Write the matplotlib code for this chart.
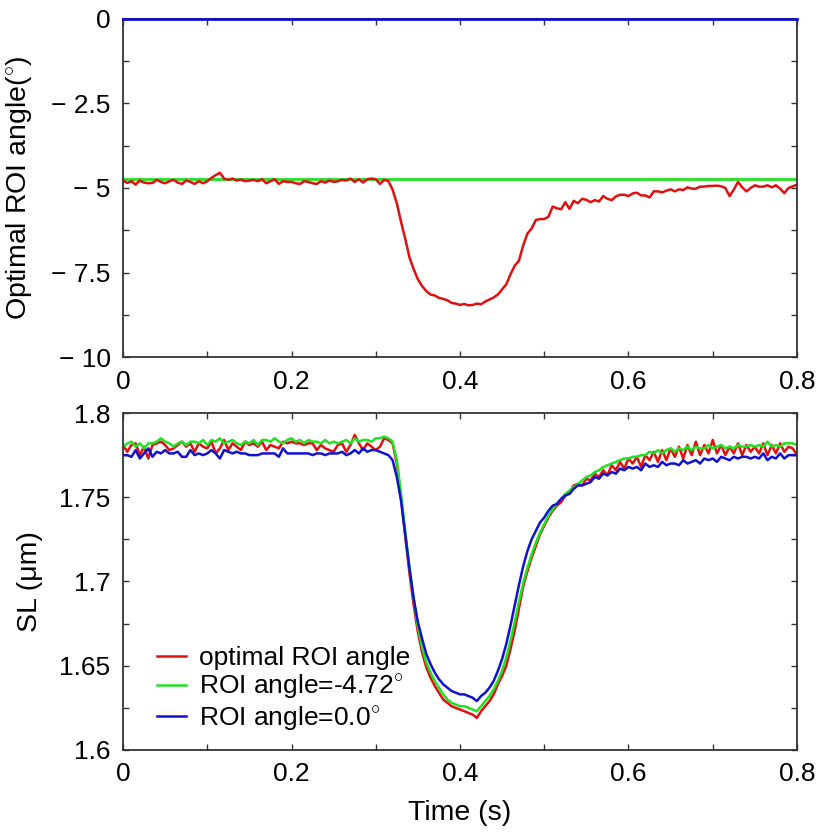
import numpy as np
import matplotlib
matplotlib.use('Agg')
import matplotlib.pyplot as plt
from matplotlib.ticker import MultipleLocator, FixedLocator, FixedFormatter

plt.rcParams['font.family'] = ['Liberation Sans', 'DejaVu Sans']
plt.rcParams['mathtext.fontset'] = 'custom'
plt.rcParams['mathtext.rm'] = 'Liberation Sans'

# sampling times (s), 5 ms frames
time = np.linspace(0.0, 0.8, 161)

# top panel: optimal ROI angle (deg)
angle_optimal = [
    -4.78, -4.85, -4.80, -4.90, -4.78, -4.84, -4.86, -4.85, -4.76, -4.82,
    -4.86, -4.80, -4.76, -4.84, -4.88, -4.78, -4.82, -4.88, -4.80, -4.86,
    -4.80, -4.70, -4.62, -4.55, -4.72, -4.76, -4.72, -4.78, -4.75, -4.80,
    -4.78, -4.76, -4.80, -4.74, -4.86, -4.80, -4.74, -4.88, -4.80, -4.82,
    -4.82, -4.86, -4.88, -4.80, -4.82, -4.86, -4.88, -4.80, -4.84, -4.78,
    -4.82, -4.80, -4.76, -4.78, -4.72, -4.82, -4.74, -4.84, -4.74, -4.72,
    -4.74, -4.88, -4.76, -4.80, -5.05, -5.45, -6.00, -6.50, -7.05, -7.40,
    -7.70, -7.90, -8.05, -8.15, -8.18, -8.25, -8.28, -8.32, -8.40, -8.42,
    -8.46, -8.43, -8.47, -8.46, -8.42, -8.44, -8.36, -8.30, -8.24, -8.15,
    -8.00, -7.85, -7.55, -7.30, -7.15, -6.70, -6.35, -6.20, -5.95, -5.92,
    -5.92, -5.85, -5.55, -5.60, -5.63, -5.42, -5.62, -5.38, -5.45, -5.32,
    -5.35, -5.42, -5.36, -5.40, -5.24, -5.32, -5.36, -5.25, -5.20, -5.20,
    -5.24, -5.16, -5.14, -5.22, -5.22, -5.28, -5.10, -5.10, -5.13, -5.08,
    -5.04, -5.10, -5.04, -5.06, -4.98, -5.02, -5.02, -4.96, -4.96, -4.94,
    -4.94, -4.93, -4.95, -5.00, -5.24, -5.05, -4.82, -4.98, -5.10, -5.00,
    -4.92, -4.96, -4.96, -4.92, -4.98, -4.92, -5.02, -5.15, -5.00, -4.95,
    -4.90,
]
angle_fixed = -4.72
angle_zero = 0.0

# bottom panel: sarcomere length (um)
sl_optimal = [
    1.781, 1.777, 1.781, 1.782, 1.775, 1.780, 1.773, 1.781, 1.782, 1.783,
    1.781, 1.778, 1.779, 1.781, 1.783, 1.780, 1.782, 1.777, 1.782, 1.780,
    1.779, 1.783, 1.776, 1.779, 1.784, 1.778, 1.782, 1.780, 1.778, 1.783,
    1.781, 1.782, 1.780, 1.783, 1.778, 1.781, 1.780, 1.779, 1.783, 1.782,
    1.783, 1.782, 1.782, 1.781, 1.782, 1.782, 1.778, 1.781, 1.779, 1.778,
    1.777, 1.781, 1.782, 1.777, 1.781, 1.787, 1.782, 1.778, 1.782, 1.780,
    1.778, 1.780, 1.785, 1.784, 1.782, 1.770, 1.750, 1.727, 1.705, 1.686,
    1.670, 1.658, 1.649, 1.643, 1.638, 1.634, 1.630, 1.628, 1.626, 1.625,
    1.624, 1.623, 1.622, 1.621, 1.619, 1.623, 1.626, 1.629, 1.633, 1.639,
    1.644, 1.650, 1.660, 1.671, 1.684, 1.697, 1.706, 1.714, 1.721, 1.728,
    1.733, 1.738, 1.742, 1.745, 1.747, 1.751, 1.753, 1.757, 1.758, 1.757,
    1.761, 1.760, 1.764, 1.762, 1.766, 1.763, 1.769, 1.766, 1.771, 1.767,
    1.773, 1.770, 1.774, 1.768, 1.775, 1.772, 1.777, 1.771, 1.778, 1.772,
    1.779, 1.774, 1.780, 1.773, 1.781, 1.775, 1.783, 1.775, 1.781, 1.776,
    1.784, 1.776, 1.781, 1.775, 1.780, 1.776, 1.782, 1.775, 1.781, 1.777,
    1.780, 1.776, 1.782, 1.775, 1.781, 1.776, 1.782, 1.777, 1.780, 1.779,
    1.775,
]
sl_fixed = [
    1.780, 1.782, 1.783, 1.780, 1.782, 1.779, 1.782, 1.782, 1.783, 1.785,
    1.783, 1.782, 1.780, 1.782, 1.783, 1.781, 1.783, 1.783, 1.782, 1.784,
    1.781, 1.784, 1.783, 1.785, 1.782, 1.783, 1.784, 1.782, 1.781, 1.783,
    1.782, 1.784, 1.781, 1.784, 1.784, 1.783, 1.785, 1.783, 1.782, 1.784,
    1.785, 1.783, 1.784, 1.782, 1.784, 1.783, 1.783, 1.782, 1.784, 1.782,
    1.783, 1.782, 1.783, 1.784, 1.782, 1.785, 1.783, 1.784, 1.784, 1.783,
    1.785, 1.785, 1.786, 1.785, 1.783, 1.772, 1.752, 1.730, 1.708, 1.690,
    1.673, 1.661, 1.652, 1.646, 1.641, 1.637, 1.633, 1.630, 1.628, 1.627,
    1.626, 1.626, 1.625, 1.624, 1.623, 1.626, 1.629, 1.632, 1.636, 1.641,
    1.647, 1.655, 1.665, 1.676, 1.688, 1.699, 1.708, 1.716, 1.723, 1.729,
    1.734, 1.739, 1.743, 1.746, 1.749, 1.752, 1.754, 1.756, 1.758, 1.760,
    1.762, 1.763, 1.765, 1.766, 1.768, 1.769, 1.770, 1.771, 1.772, 1.773,
    1.773, 1.774, 1.774, 1.775, 1.775, 1.777, 1.776, 1.778, 1.776, 1.778,
    1.779, 1.777, 1.779, 1.778, 1.780, 1.778, 1.780, 1.779, 1.779, 1.781,
    1.779, 1.780, 1.781, 1.779, 1.780, 1.779, 1.781, 1.780, 1.780, 1.781,
    1.780, 1.781, 1.780, 1.783, 1.780, 1.781, 1.780, 1.782, 1.782, 1.782,
    1.781,
]
sl_zero = [
    1.775, 1.775, 1.774, 1.778, 1.773, 1.776, 1.779, 1.774, 1.777, 1.776,
    1.778, 1.776, 1.776, 1.777, 1.774, 1.774, 1.778, 1.775, 1.776, 1.775,
    1.776, 1.778, 1.776, 1.773, 1.778, 1.777, 1.776, 1.777, 1.776, 1.776,
    1.775, 1.775, 1.775, 1.776, 1.776, 1.776, 1.776, 1.774, 1.779, 1.776,
    1.776, 1.776, 1.776, 1.776, 1.776, 1.775, 1.776, 1.776, 1.775, 1.776,
    1.776, 1.776, 1.777, 1.775, 1.776, 1.778, 1.776, 1.779, 1.777, 1.778,
    1.778, 1.777, 1.776, 1.775, 1.772, 1.762, 1.748, 1.728, 1.708, 1.690,
    1.676, 1.666, 1.657, 1.651, 1.646, 1.642, 1.639, 1.637, 1.635, 1.634,
    1.633, 1.633, 1.632, 1.631, 1.629, 1.632, 1.634, 1.637, 1.641, 1.647,
    1.654, 1.663, 1.674, 1.686, 1.698, 1.709, 1.718, 1.725, 1.730, 1.735,
    1.738, 1.742, 1.745, 1.746, 1.749, 1.751, 1.752, 1.755, 1.757, 1.757,
    1.758, 1.759, 1.762, 1.761, 1.764, 1.763, 1.765, 1.764, 1.767, 1.766,
    1.768, 1.767, 1.768, 1.766, 1.770, 1.768, 1.769, 1.768, 1.771, 1.769,
    1.770, 1.770, 1.769, 1.772, 1.770, 1.771, 1.772, 1.770, 1.773, 1.772,
    1.773, 1.771, 1.774, 1.773, 1.772, 1.774, 1.773, 1.774, 1.774, 1.773,
    1.774, 1.773, 1.776, 1.772, 1.774, 1.773, 1.776, 1.773, 1.775, 1.775,
    1.775,
]

legend_labels = ['optimal ROI angle', r'ROI angle=-4.72$^{\circ}$', r'ROI angle=0.0$^{\circ}$']
top_yticks = [0, -2.5, -5, -7.5, -10]
top_yticklabels = ['0', '\u2212 2.5', '\u2212 5', '\u2212 7.5', '\u2212 10']
bottom_yticks = [1.6, 1.65, 1.7, 1.75, 1.8]
bottom_yticklabels = ['1.6', '1.65', '1.7', '1.75', '1.8']
xticks = [0, 0.2, 0.4, 0.6, 0.8]
xticklabels = ['0', '0.2', '0.4', '0.6', '0.8']

RED = '#e01010'
GREEN = '#22e022'
BLUE = '#1010d0'
SPINE = '#333333'
FS = 19      # tick labels
LFS = 20.5   # axis labels

fig = plt.figure(figsize=(8.19, 8.32), dpi=100)
ax1 = fig.add_axes([0.1502, 0.5709, 0.8229, 0.4063])
ax2 = fig.add_axes([0.1502, 0.0986, 0.8229, 0.4050])


def style(ax):
    for s in ax.spines.values():
        s.set_color(SPINE)
        s.set_linewidth(1.3)
    ax.tick_params(which='both', direction='in', top=True, right=True,
                   length=4, width=1.0, color=SPINE, labelsize=FS)
    ax.tick_params(axis='x', which='major', pad=9)
    ax.tick_params(axis='y', which='major', pad=9)
    ax.xaxis.set_major_locator(FixedLocator(xticks))
    ax.xaxis.set_major_formatter(FixedFormatter(xticklabels))
    ax.xaxis.set_minor_locator(MultipleLocator(0.1))
    ax.set_xlim(0, 0.8)


# top panel
ax1.plot(time, np.full_like(time, angle_zero), color=BLUE, lw=2, clip_on=False, zorder=3)
ax1.plot(time, np.full_like(time, angle_fixed), color=GREEN, lw=2)
ax1.plot(time, angle_optimal, color=RED, lw=1.8)
style(ax1)
ax1.set_ylim(-10, 0)
ax1.yaxis.set_major_locator(FixedLocator(top_yticks))
ax1.yaxis.set_major_formatter(FixedFormatter(top_yticklabels))
ax1.yaxis.set_minor_locator(MultipleLocator(1.25))
ax1.set_ylabel(r'Optimal ROI angle($^{\circ}$)', fontsize=LFS)
ax1.yaxis.set_label_coords(-0.130, 0.5)

# bottom panel
ax2.plot(time, sl_optimal, color=RED, lw=1.8, label=legend_labels[0])
ax2.plot(time, sl_fixed, color=GREEN, lw=1.8, label=legend_labels[1])
ax2.plot(time, sl_zero, color=BLUE, lw=1.8, label=legend_labels[2])
style(ax2)
ax2.set_ylim(1.6, 1.8)
ax2.yaxis.set_major_locator(FixedLocator(bottom_yticks))
ax2.yaxis.set_major_formatter(FixedFormatter(bottom_yticklabels))
ax2.yaxis.set_minor_locator(MultipleLocator(0.025))
ax2.set_ylabel('SL (\u03bcm)', fontsize=LFS)
ax2.yaxis.set_label_coords(-0.119, 0.5)
ax2.set_xlabel('Time (s)', fontsize=LFS, labelpad=10)

ax2.legend(loc='lower left', bbox_to_anchor=(0.035, 0.02), frameon=False,
           fontsize=19, handlelength=1.1, handletextpad=0.5, labelspacing=0.1,
           borderaxespad=0)

fig.savefig('out.png', dpi=100)
